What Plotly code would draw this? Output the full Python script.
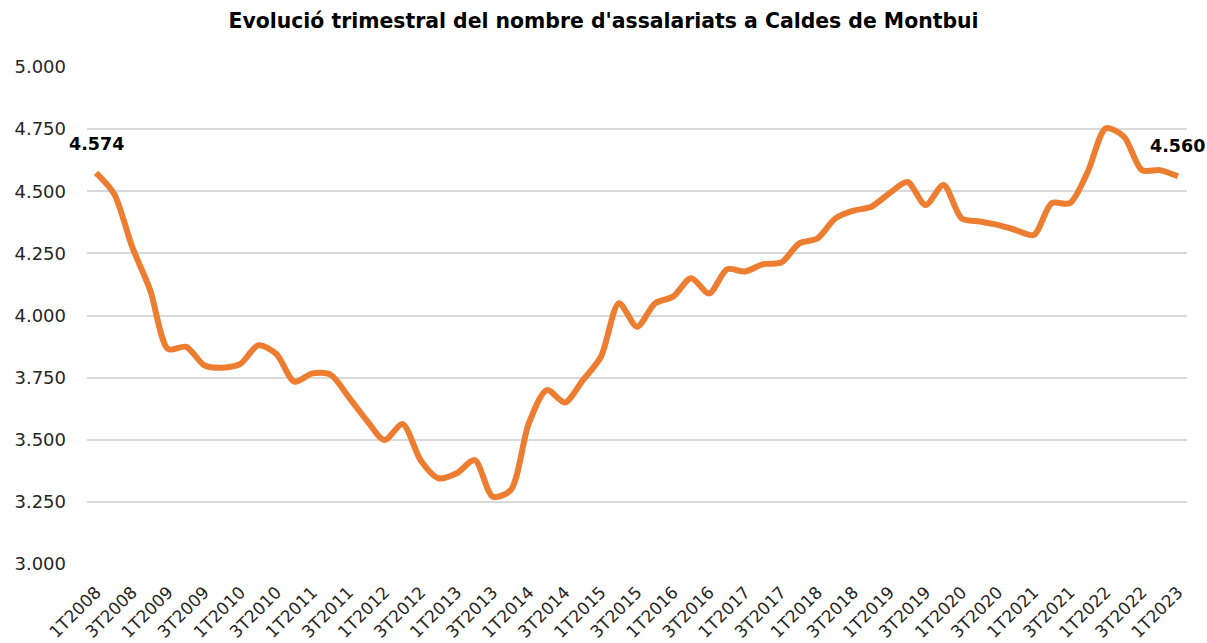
import plotly.graph_objects as go

# Quarterly categories 1T2008 .. 1T2023
quarters = [f"{q}T{y}" for y in range(2008, 2024) for q in range(1, 5)][:61]

# Number of salaried workers per quarter
assalariats = [
    4574, 4490, 4277, 4103, 3865, 3874, 3800, 3790, 3805, 3880,
    3845, 3734, 3767, 3762, 3673, 3579, 3499, 3563, 3418, 3345,
    3365, 3418, 3271, 3298, 3566, 3700, 3650, 3740, 3834, 4049,
    3955, 4049, 4076, 4150, 4089, 4186, 4177, 4207, 4213, 4290,
    4310, 4391, 4422, 4438, 4492, 4537, 4445, 4525, 4391, 4378,
    4365, 4344, 4324, 4452, 4452, 4579, 4753, 4720, 4585, 4585,
    4560,
]

# Axis ticks
x_ticks = quarters[::2]
y_ticks = [3000, 3250, 3500, 3750, 4000, 4250, 4500, 4750, 5000]

title = "Evolució trimestral del nombre d'assalariats a Caldes de Montbui"
font_family = "'DejaVu Sans', sans-serif"
orange = "#ED7D31"
text_color = "#262626"


def fmt(v):
    return f"{v:,}".replace(",", ".")


fig = go.Figure()
fig.add_trace(go.Scatter(
    x=quarters,
    y=assalariats,
    mode="lines",
    line=dict(color=orange, width=6, shape="spline", smoothing=0.8),
    hoverinfo="x+y",
))

# Value labels on the first and last points
for idx, shift in ((0, 29), (len(quarters) - 1, 30)):
    fig.add_annotation(
        x=quarters[idx], y=assalariats[idx],
        text=f"<b>{fmt(assalariats[idx])}</b>",
        showarrow=False, yshift=shift,
        font=dict(family=font_family, size=17.5, color="#000000"),
    )

fig.update_layout(
    width=1207, height=643,
    margin=dict(l=87, r=20, t=67, b=79, autoexpand=False),
    paper_bgcolor="white", plot_bgcolor="white",
    separators=",.",
    showlegend=False,
    title=dict(
        text=f"<b>{title}</b>",
        x=0.5, xanchor="center", y=0.968, yanchor="middle",
        font=dict(family=font_family, size=20.4, color="#000000"),
    ),
    font=dict(family=font_family, color=text_color),
)

fig.update_xaxes(
    type="category",
    tickmode="array", tickvals=x_ticks, ticktext=x_ticks,
    tickangle=-45, tickfont=dict(size=17, color=text_color),
    showgrid=False, showline=False, ticks="",
    range=[-0.5, len(quarters) - 0.5],
    ticklabelstandoff=14,
    automargin=False,
)

fig.update_yaxes(
    range=[3000, 5000],
    tickmode="array", tickvals=y_ticks,
    tickformat=",.0f",
    tickfont=dict(size=18, color=text_color),
    showgrid=True, gridcolor="#D9D9D9", gridwidth=1.5,
    zeroline=False, showline=False, ticks="",
    ticklabelstandoff=20,
    automargin=False,
)

fig.write_html("out.html")
